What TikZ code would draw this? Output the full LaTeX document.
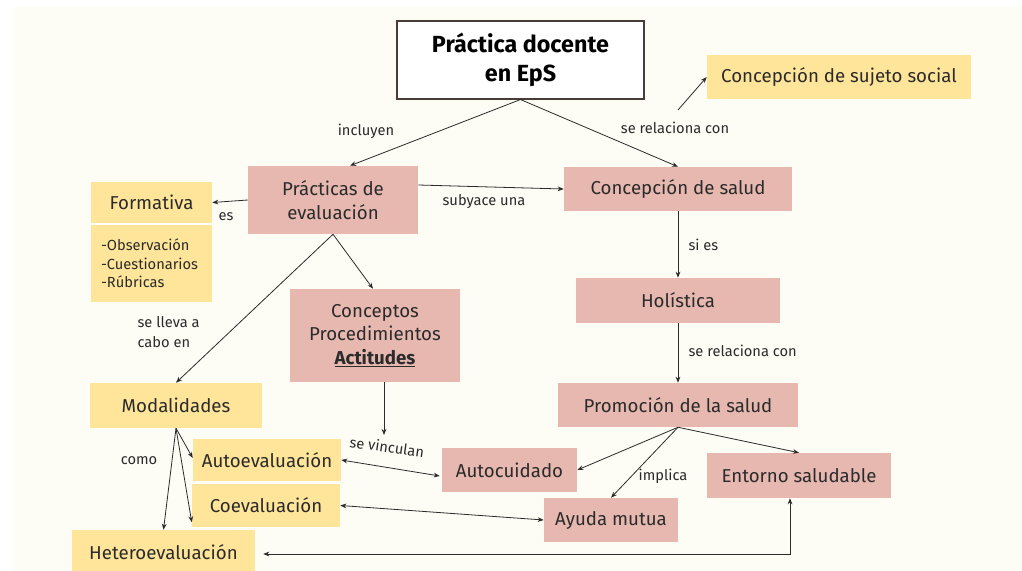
\documentclass[tikz,border=0pt]{standalone}
\usepackage{fontspec}
\setmainfont{Fira Sans}
\usetikzlibrary{arrows.meta, calc}

\definecolor{crema}{HTML}{FDFCF5}
\definecolor{amarillo}{HTML}{FFE599}
\definecolor{rosa}{HTML}{E6B8AF}
\definecolor{tinta}{HTML}{2B2B2B}
\definecolor{borde}{HTML}{4A3B38}

\begin{document}
\begin{tikzpicture}[x=0.75pt, y=-0.75pt,
    tam/.style 2 args={minimum width=#1*0.75pt, minimum height=#2*0.75pt},
    caja/.style={fill=#1, inner sep=0pt, align=center, text=tinta,
      font=\fontsize{14}{18}\selectfont},
    etiqueta/.style={inner sep=1pt, text=tinta, font=\fontsize{11}{14.5}\selectfont},
    flecha/.style={draw=tinta, line width=0.6pt, -{Stealth[length=4.5pt, width=3.5pt]}},
    doble/.style={flecha, {Stealth[length=4.5pt, width=3.5pt]}-{Stealth[length=4.5pt, width=3.5pt]}}]
    \useasboundingbox (0,0) rectangle (1022,571);
    \clip (0,0) rectangle (1022,571);
    \fill[crema] (13,7) rectangle (1022,571);

    % nodos
    \node[caja=white, draw=borde, line width=0.8pt, tam={247}{78},
      font=\bfseries\fontsize{17.5}{22}\selectfont, text=black] (titulo) at (520.5,60) {Práctica docente\\en EpS};
    \node[caja=amarillo, tam={264}{44}] (sujeto) at (839,77) {Concepción de sujeto social};
    \node[caja=rosa, tam={170}{68}] (practicas) at (333,200) {Prácticas de\\evaluación};
    \node[caja=rosa, tam={228}{44}] (salud) at (678,189) {Concepción de salud};
    \node[caja=amarillo, tam={121}{41}] (formativa) at (151.5,202.5) {Formativa};
    \node[caja=amarillo, tam={121}{77}, align=left, inner xsep=7.5pt, text width=75.75pt,
      font=\fontsize{11}{14}\selectfont] (lista) at (151.5,263.5) {-Observación\\-Cuestionarios\\-Rúbricas};
    \node[caja=rosa, tam={170}{93}, font=\fontsize{14}{17.6}\selectfont] (conceptos) at (375,335.5)
      {Conceptos\\Procedimientos\\\underline{\textbf{Actitudes}}};
    \node[caja=rosa, tam={204}{45}] (holistica) at (678,300.5) {Holística};
    \node[caja=rosa, tam={240}{44}] (promocion) at (678,405) {Promoción de la salud};
    \node[caja=amarillo, tam={172}{45}] (modalidades) at (176,405.5) {Modalidades};
    \node[caja=amarillo, tam={148}{42}] (autoeval) at (267,460) {Autoevaluación};
    \node[caja=amarillo, tam={148}{43}] (coeval) at (266,505.5) {Coevaluación};
    \node[caja=amarillo, tam={183}{44}] (hetero) at (163.5,552) {Heteroevaluación};
    \node[caja=rosa, tam={135}{44}] (autocuidado) at (509.5,470) {Autocuidado};
    \node[caja=rosa, tam={134}{44}] (ayuda) at (611,520) {Ayuda mutua};
    \node[caja=rosa, tam={184}{45}] (entorno) at (799,475.5) {Entorno saludable};

    % conectores
    \coordinate (desde) at (678,110);
    \coordinate (vinculo) at (384,435);
    \draw[flecha] (titulo.south) -- ($(practicas.north)+(17,0)$);
    \draw[flecha] (titulo.south) -- (salud.north);
    \draw[flecha] (desde) -- (sujeto.west);
    \draw[flecha] ($(practicas.east)+(0,-15)$) -- (salud.west);
    \draw[flecha] (practicas.west) -- (formativa.east);
    \draw[flecha] (practicas.south) -- (modalidades.north);
    \draw[flecha] (practicas.south) -- ($(conceptos.north)+(-2,0)$);
    \draw[flecha] ($(conceptos.south)+(9,0)$) -- (vinculo);
    \draw[doble] (autoeval.east) -- ($(autocuidado.west)+(-2,6)$);
    \draw[doble] (coeval.east) -- (ayuda.west);
    \draw[doble] ($(hetero.east)+(8,2)$) -| ($(entorno.south)+(-9,0)$);
    \draw[flecha] (modalidades.south) -- ($(autoeval.west)+(0,-2)$);
    \draw[flecha] (modalidades.south) -- ($(coeval.south west)+(0,-5)$);
    \draw[flecha] (modalidades.south) -- (hetero.north);
    \draw[flecha] (salud.south) -- (holistica.north);
    \draw[flecha] (holistica.south) -- (promocion.north);
    \draw[flecha] (promocion.south) -- (autocuidado.east);
    \draw[flecha] (promocion.south) -- (ayuda.north);
    \draw[flecha] (promocion.south) -- (entorno.north);

    % etiquetas
    \node[etiqueta] (l-incluyen) at (366,131) {incluyen};
    \node[etiqueta] (l-relaciona) at (675,128) {se relaciona con};
    \node[etiqueta] (l-subyace) at (484,202) {subyace una};
    \node[etiqueta] (l-es) at (226,217) {es};
    \node[etiqueta, anchor=west, align=left] (l-lleva) at (136,332) {se lleva a\\cabo en};
    \node[etiqueta, rotate=-8] (l-vinculan) at (387,447) {se vinculan};
    \node[etiqueta] (l-como) at (139,461) {como};
    \node[etiqueta, anchor=west] (l-sies) at (687,245) {si es};
    \node[etiqueta, anchor=west] (l-relaciona2) at (687,351) {se relaciona con};
    \node[etiqueta] (l-implica) at (663,476) {implica};
\end{tikzpicture}
\end{document}
